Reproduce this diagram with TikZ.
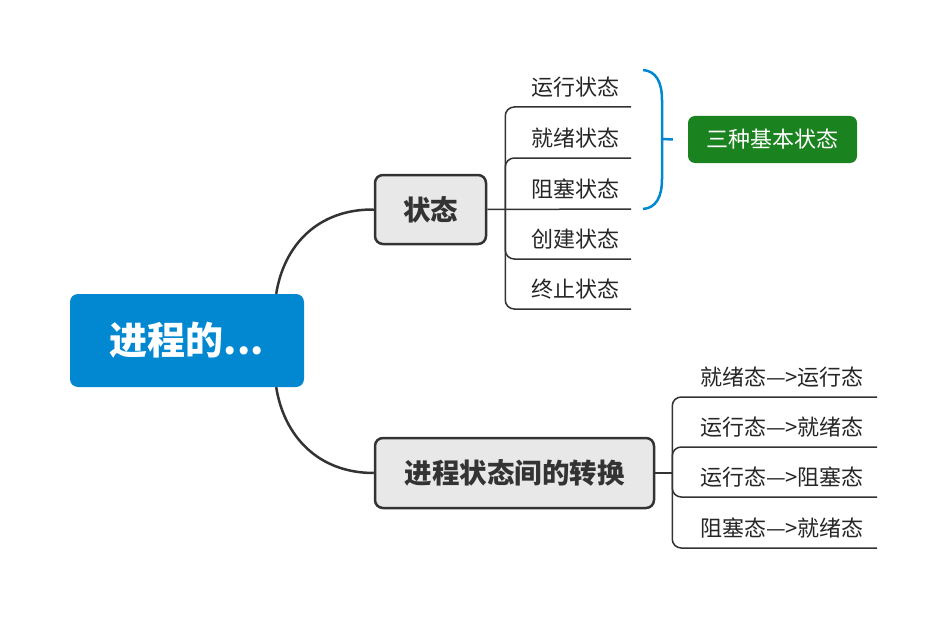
\documentclass[tikz,border=0pt]{standalone}
\usepackage{fontspec}
\setmainfont{Noto Sans CJK SC}
\usepackage{xcolor}
\usepackage{tikz}

\definecolor{rootblue}{RGB}{2,136,209}
\definecolor{boxgray}{RGB}{232,232,232}
\definecolor{linegray}{RGB}{51,51,51}
\definecolor{basegreen}{RGB}{26,130,31}

\begin{document}
\begin{tikzpicture}[x=1pt, y=-1pt,
    topic/.style={draw=linegray, line width=2.5pt, fill=boxgray, rounded corners=8pt,
        text=linegray, font=\fontsize{27.5}{32}\selectfont\bfseries},
    leaf/.style={inner sep=0pt, text height=17pt, text depth=11pt, anchor=south,
        text=black!85, font=\fontsize{22}{26}\selectfont},
    branch/.style={draw=linegray, line width=1.5pt, rounded corners=9pt},
    link/.style={draw=linegray, line width=2.5pt}]

    % Page
    \fill[white] (0,0) rectangle (946,618);
    \useasboundingbox (0,0) rectangle (946,618);

    % Central topic and main topics
    \node[fill=rootblue, rounded corners=8pt, minimum width=234pt, minimum height=93pt,
        text=white, font=\fontsize{38}{44}\selectfont\bfseries] (root) at (187,340.5) {进程的...};
    \node[topic, minimum width=111pt, minimum height=69pt] (state) at (430.5,209.5) {状态};
    \node[topic, minimum width=279pt, minimum height=70pt] (trans) at (514.5,473) {进程状态间的转换};

    % Curves from the centre
    \draw[link] ([xshift=-28pt]root.north east) .. controls (284,245) and (318,209) .. (state.west);
    \draw[link] ([xshift=-28pt]root.south east) .. controls (284,436) and (318,473) .. (trans.west);

    % States
    \node[leaf, minimum width=111pt] (s1) at (575.5,107) {运行状态};
    \node[leaf, minimum width=111pt] (s2) at (575.5,158) {就绪状态};
    \node[leaf, minimum width=111pt] (s3) at (575.5,209) {阻塞状态};
    \node[leaf, minimum width=111pt] (s4) at (575.5,259) {创建状态};
    \node[leaf, minimum width=111pt] (s5) at (575.5,309) {终止状态};

    \coordinate (sj) at ([xshift=18pt]state.east);
    \draw[branch] (state.east) -- (s3.south east);
    \foreach \n in {s1,s2,s4,s5}
        \draw[branch] (sj) |- (\n.south east);

    % Transitions
    \node[leaf, minimum width=190pt] (t1) at (782,397) {就绪态—>运行态};
    \node[leaf, minimum width=190pt] (t2) at (782,447) {运行态—>就绪态};
    \node[leaf, minimum width=190pt] (t3) at (782,497) {运行态—>阻塞态};
    \node[leaf, minimum width=190pt] (t4) at (782,548) {阻塞态—>就绪态};

    \coordinate (tj) at ([xshift=17pt]trans.east);
    \draw[link, line width=1.5pt] (trans.east) -- (tj);
    \foreach \n in {t1,t2,t3,t4}
        \draw[branch] (tj) |- (\n.south east);

    % Summary brace
    \draw[rootblue, line width=2.5pt] (643,70) .. controls (656,71) and (662,82) .. (662,100)
        -- (662,179) .. controls (662,197) and (656,208) .. (643,209);
    \node[fill=basegreen, rounded corners=7pt, minimum width=169pt, minimum height=47pt,
        text=white, font=\fontsize{22}{26}\selectfont] (basic) at (772.5,139.5) {三种基本状态};
    \draw[rootblue, line width=2.5pt] (662,139) -- ([xshift=-15pt]basic.west);

\end{tikzpicture}
\end{document}
